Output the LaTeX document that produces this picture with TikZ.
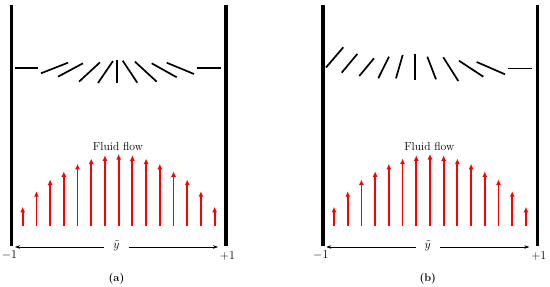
\documentclass[tikz,border=0pt]{standalone}
\usetikzlibrary{arrows.meta}
\begin{document}
\begin{tikzpicture}[x=1pt,y=-1pt,
  wall/.style={line width=3.4pt},
  director/.style={line width=1.7pt},
  flow/.style={red,line width=1.8pt,-{Latex[length=5.5pt,width=5pt]}},
  axis/.style={line width=0.5pt,-{Stealth[length=5pt,width=3.5pt]}},
  lbl/.style={font=\fontsize{11.6}{13}\selectfont},
  endlbl/.style={font=\fontsize{12.4}{14}\selectfont},
  panelcap/.style={font=\fontsize{11}{13}\selectfont\bfseries}]
\useasboundingbox (0,0) rectangle (550,287);
\foreach \sh/\p in {0/a,311.3/b}{
\begin{scope}[xshift=\sh pt]
  \draw[wall] (11.5,5) -- (11.5,245.5);
  \draw[wall] (226,5) -- (226,246);
  \foreach \h [count=\i from 0] in {206.8,191.2,179.5,171.3,163.8,158.5,155.3,154,155.3,158.5,163.8,171.3,179.5,191.2,206.8}{
     \draw[flow] ({22.7+13.71*\i},226) -- ({22.7+13.71*\i},\h);
  }
  \node[lbl] (flow\p) at (118,146.5) {Fluid flow};
  \node[lbl,inner xsep=9pt,inner ysep=0pt] (yt\p) at (116.5,246) {$\tilde{y}$};
  \coordinate (l\p) at (15,247);
  \coordinate (r\p) at (218,247);
  \draw[axis] (yt\p.west |- l\p) -- (l\p);
  \draw[axis] (yt\p.east |- r\p) -- (r\p);
  \node[endlbl] (m\p) at (9.5,255.5) {$-1$};
  \node[endlbl] (p\p) at (227.5,256) {$+1$};
  \node[panelcap] (c\p) at (116.5,278.3) {(\p)};
\end{scope}
}
% directors, panel (a)
\foreach \xa/\ya/\xb/\yb in {15/68.3/38/68.3, 41/73.3/68/62.7, 58/76.7/83/63.3, 79/81.7/100/62.3,
  98/83/113/61, 117/60/117/83, 122.7/60.7/137.3/82.7, 135/61.7/156.7/81.7,
  151.7/63.3/176.7/77.3, 166.7/62.7/194/74, 196.7/68.3/220.7/68.3}{
  \draw[director] (\xa,\ya) -- (\xb,\yb);
}
% directors, panel (b)
\foreach \xa/\ya/\xb/\yb in {326/67.5/343.3/47.3, 341.7/72.7/357.3/54, 359.3/76/374/58.3, 378.3/78.3/389/56.7,
  396/78.3/402.7/55, 415/54/415/80, 427.3/56.7/436/79.3, 443.3/57.3/458.3/81,
  459/60.7/483.3/76.7, 476.7/62/505/74.3, 508.3/68.5/531.7/68.5}{
  \draw[director] (\xa,\ya) -- (\xb,\yb);
}
\end{tikzpicture}
\end{document}
